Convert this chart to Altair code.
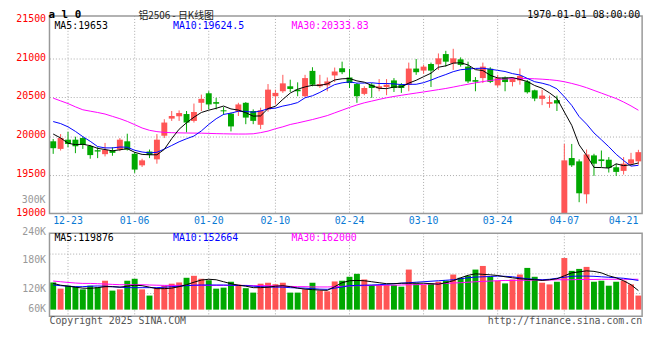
import altair as alt
import pandas as pd

# ---------------- data ----------------
dates = ["12-19", "12-20", "12-23", "12-24", "12-25", "12-26", "12-27", "12-30", "12-31",
         "01-02", "01-03", "01-06", "01-07", "01-08", "01-09", "01-10", "01-13", "01-14",
         "01-15", "01-16", "01-17", "01-20", "01-21", "01-22", "01-23", "01-24", "01-27",
         "02-05", "02-06", "02-07", "02-10", "02-11", "02-12", "02-13", "02-14", "02-17",
         "02-18", "02-19", "02-20", "02-21", "02-24", "02-25", "02-26", "02-27", "02-28",
         "03-03", "03-04", "03-05", "03-06", "03-07", "03-10", "03-11", "03-12", "03-13",
         "03-14", "03-17", "03-18", "03-19", "03-20", "03-21", "03-24", "03-25", "03-26",
         "03-27", "03-28", "03-31", "04-01", "04-02", "04-03", "04-07", "04-08", "04-09",
         "04-10", "04-11", "04-14", "04-15", "04-16", "04-17", "04-18", "04-21"]

open_ = [19933, 19835, 19954, 19954, 19975, 19873, 19818, 19767, 19814, 19827,
         19933, 19772, 19623, 19801, 19700, 20005, 20226, 20256, 20285, 20196,
         20430, 20553, 20439, 20333, 20290, 20316, 20430, 20324, 20146, 20345,
         20515, 20579, 20643, 20600, 20515, 20842, 20643, 20655, 20783, 20876,
         20757, 20672, 20545, 20664, 20617, 20634, 20719, 20664, 20664, 20872,
         20846, 20931, 20927, 21059, 20940, 20991, 20897, 20723, 20749, 20870,
         20655, 20757, 20698, 20719, 20706, 20591, 20481, 20417, 20464, 18980,
         19717, 19674, 19249, 19751, 19700, 19695, 19598, 19551, 19644, 19674]

high = [19963, 20026, 20056, 19992, 19992, 19886, 19856, 19912, 19856, 19975,
        20031, 19793, 19708, 19827, 20026, 20218, 20324, 20332, 20324, 20420,
        20536, 20579, 20494, 20375, 20303, 20430, 20439, 20345, 20367, 20672,
        20600, 20791, 20728, 20694, 20791, 20889, 20791, 20757, 20885, 20961,
        20868, 20685, 20643, 20685, 20736, 20736, 20749, 20685, 20949, 20995,
        20919, 20949, 21067, 21101, 21127, 21016, 20961, 20762, 20949, 20889,
        20791, 20770, 20761, 20872, 20727, 20600, 20600, 20523, 20523, 19899,
        19899, 19700, 19827, 19772, 19814, 19729, 19644, 19729, 19784, 19823]

low = [19771, 19814, 19856, 19780, 19835, 19708, 19716, 19738, 19746, 19806,
       19814, 19525, 19602, 19716, 19644, 19975, 20196, 20196, 20048, 20175,
       20324, 20345, 20345, 20273, 20061, 20260, 20154, 20154, 20091, 20316,
       20409, 20558, 20570, 20515, 20502, 20643, 20622, 20579, 20698, 20800,
       20621, 20430, 20528, 20494, 20579, 20528, 20570, 20558, 20579, 20791,
       20804, 20634, 20855, 20897, 20855, 20897, 20685, 20579, 20685, 20685,
       20630, 20579, 20642, 20664, 20549, 20451, 20400, 20366, 20324, 18950,
       19602, 19147, 19130, 19487, 19602, 19530, 19487, 19504, 19623, 19632]

close = [19844, 19975, 19899, 19869, 19886, 19755, 19801, 19822, 19784, 19954,
         19827, 19568, 19687, 19759, 19954, 20175, 20260, 20298, 20175, 20311,
         20481, 20409, 20418, 20320, 20125, 20409, 20239, 20197, 20333, 20600,
         20558, 20681, 20609, 20579, 20749, 20664, 20672, 20706, 20834, 20825,
         20685, 20515, 20621, 20621, 20643, 20664, 20621, 20621, 20872, 20825,
         20897, 20846, 21004, 20961, 21004, 20919, 20706, 20702, 20897, 20700,
         20749, 20698, 20736, 20778, 20566, 20485, 20523, 20439, 20422, 19687,
         19623, 19262, 19763, 19644, 19678, 19589, 19538, 19644, 19700, 19793]

ma5 = [20027, 19976, 19908, 19890, 19895, 19877, 19842, 19827, 19810, 19823,
       19838, 19791, 19764, 19759, 19759, 19829, 19967, 20089, 20172, 20244,
       20305, 20335, 20359, 20388, 20351, 20336, 20302, 20258, 20261, 20356,
       20385, 20474, 20556, 20605, 20635, 20656, 20655, 20674, 20725, 20740,
       20744, 20713, 20696, 20653, 20617, 20613, 20634, 20634, 20684, 20721,
       20767, 20812, 20889, 20907, 20942, 20947, 20919, 20858, 20846, 20785,
       20751, 20749, 20756, 20732, 20705, 20653, 20618, 20558, 20487, 20311,
       20139, 19887, 19751, 19596, 19594, 19587, 19642, 19619, 19630, 19653]

ma10 = [20188, 20162, 20120, 20061, 19993, 19933, 19865, 19848, 19848, 19859,
        19857, 19817, 19795, 19784, 19791, 19833, 19879, 19927, 19966, 20001,
        20067, 20151, 20224, 20280, 20297, 20321, 20319, 20308, 20324, 20353,
        20361, 20388, 20407, 20433, 20495, 20521, 20564, 20615, 20665, 20688,
        20700, 20684, 20685, 20689, 20679, 20679, 20674, 20665, 20669, 20669,
        20690, 20723, 20761, 20795, 20832, 20857, 20866, 20874, 20876, 20864,
        20849, 20834, 20807, 20789, 20745, 20702, 20683, 20657, 20610, 20508,
        20396, 20252, 20155, 20041, 19953, 19863, 19765, 19685, 19613, 19623]

ma30 = [20490, 20455, 20420, 20378, 20340, 20322, 20305, 20285, 20255, 20225,
        20190, 20148, 20105, 20075, 20058, 20048, 20044, 20042, 20040, 20039,
        20038, 20035, 20032, 20030, 20028, 20027, 20027, 20030, 20045, 20065,
        20095, 20120, 20150, 20170, 20192, 20214, 20239, 20265, 20300, 20335,
        20370, 20402, 20430, 20452, 20474, 20495, 20512, 20527, 20542, 20556,
        20570, 20585, 20600, 20615, 20633, 20652, 20670, 20688, 20704, 20718,
        20730, 20738, 20742, 20744, 20743, 20740, 20735, 20728, 20718, 20702,
        20680, 20655, 20625, 20590, 20555, 20520, 20485, 20440, 20390, 20334]

volume = [137000, 124000, 130200, 128100, 122500, 130200, 127100, 140600, 119900, 122500,
          140600, 144700, 122500, 109500, 126100, 130200, 134400, 137000, 146800, 150900,
          144700, 141600, 124000, 126100, 138500, 132300, 125000, 115700, 134400, 136400,
          133300, 136400, 115700, 115700, 122500, 136400, 119900, 118400, 139100, 140600,
          148900, 155100, 143300, 131700, 131700, 131700, 131700, 128100, 164000, 135000,
          131700, 135000, 138500, 140600, 153600, 146800, 150900, 164000, 171600, 148900,
          140600, 135000, 143300, 153600, 167500, 148900, 136400, 132900, 138500, 188200,
          161300, 165400, 169600, 138500, 140600, 130200, 138500, 140600, 132900, 109500]

vma5 = [134980, 131250, 129180, 127110, 125040, 124620, 126070, 128150, 128150, 127110,
        129180, 131250, 130220, 127110, 124000, 124000, 125040, 128150, 132290, 137470,
        142020, 143680, 142650, 138500, 134360, 131250, 129180, 126070, 126070, 127110,
        129180, 130220, 128150, 125040, 122960, 121930, 120890, 120480, 128150, 136430,
        140570, 141200, 140570, 138500, 136430, 134360, 134360, 135400, 135400, 135400,
        135400, 134360, 133320, 136430, 140570, 146790, 151970, 155070, 154040, 153000,
        151550, 148860, 146790, 144720, 143680, 142650, 141200, 142650, 144720, 150930,
        157140, 159210, 161290, 160250, 157140, 150930, 146790, 140570, 132290, 119876]

vma10 = [131670, 130220, 129180, 128150, 128150, 129180, 129600, 129180, 128150, 127110,
         126070, 126070, 126070, 126070, 126070, 127110, 128150, 129180, 130220, 131250,
         131670, 131670, 131670, 131670, 131250, 130840, 130220, 129180, 128150, 127530,
         127110, 127110, 126070, 125450, 125040, 124000, 122960, 122550, 125040, 127530,
         130220, 130840, 131250, 131670, 132290, 133320, 134360, 135400, 136430, 137470,
         138500, 139540, 140570, 141610, 142650, 144720, 146790, 148240, 148860, 149480,
         150310, 149890, 148860, 146790, 144720, 143680, 142650, 143680, 145750, 147820,
         149890, 150310, 150310, 149890, 148860, 147820, 146790, 145750, 143680, 141200]

vma30 = [139950, 138500, 137050, 135810, 134980, 134980, 134360, 133740, 132910, 132290,
         132290, 132290, 132290, 131670, 131250, 130840, 130840, 130840, 130840, 130840,
         130840, 130840, 130840, 130840, 130840, 130840, 130840, 130220, 130220, 130220,
         129600, 129180, 128770, 128150, 128150, 127530, 127530, 127530, 128150, 128770,
         129600, 130220, 130220, 130840, 130840, 131250, 131250, 131670, 132290, 132290,
         132910, 133740, 134360, 134980, 135810, 136430, 137470, 138500, 139120, 139950,
         140570, 141200, 141200, 141610, 141610, 142020, 142020, 142020, 142650, 142650,
         142650, 143270, 143270, 143270, 143680, 143680, 143680, 143680, 143680, 143680]

tick_dates = ["12-23", "01-06", "01-20", "02-10", "02-24", "03-10", "03-24", "04-07", "04-21"]
grid_dates = ["12-23", "01-06", "01-20", "02-10", "02-24", "03-10", "03-24", "04-07"]
price_ticks = [19000, 19500, 20000, 20500, 21000, 21500]
vol_ticks = [240000, 180000, 120000, 79000]
vol_grid = [196500, 155000, 113700]
PRICE_TOP, PRICE_BOTTOM = 21550, 19000
VOL_TOP, VOL_BOTTOM, VOL_BASE = 240000, 66000, 80000

# ---------------- styles ----------------
MONO = "DejaVu Sans Mono"
CJK = "Noto Sans CJK SC"
RED = "#ff5555"
GREEN = "#00a800"
GRID = "#aaaaaa"
FRAME = "#999999"
W, H = 600, 304

df = pd.DataFrame({"date": dates, "open": open_, "high": high, "low": low, "close": close,
                   "ma5": ma5, "ma10": ma10, "ma30": ma30, "volume": volume,
                   "vma5": vma5, "vma10": vma10, "vma30": vma30})
df["dir"] = ["up" if c >= o else "down" for o, c in zip(open_, close)]

x_axis = alt.Axis(values=tick_dates, title=None, orient="bottom", offset=-104,
                  domain=False, ticks=False, grid=False, labelAngle=0,
                  labelColor="#0a7ad4", labelFont=MONO, labelFontSize=10,
                  labelPadding=2, labelOverlap=False,
                  labelAlign={"condition": {"test": "datum.value == '04-21'", "value": "right"},
                              "value": "center"})
X = alt.X("date:N", scale=alt.Scale(domain=dates, paddingInner=0, paddingOuter=0), axis=x_axis)
COLOR = alt.Color("dir:N", scale=alt.Scale(domain=["up", "down"], range=[RED, GREEN]), legend=None)

p_scale = alt.Scale(domain=[PRICE_BOTTOM, PRICE_TOP], range=[200, 0], clamp=True, zero=False, nice=False)
p_axis = alt.Axis(values=price_ticks, title=None, orient="left", domain=False, ticks=False,
                  grid=True, gridColor=GRID, gridDash=[1, 2], gridWidth=1,
                  gridOpacity={"condition": {"test": "datum.value == 21500 || datum.value == 19000",
                                             "value": 0}, "value": 1},
                  format="d",
                  labelColor="#ff0000", labelFont=MONO, labelFontSize=10,
                  labelPadding=4, labelOffset=-1.5)

v_scale = alt.Scale(domain=[VOL_BOTTOM, VOL_TOP], range=[304, 220], zero=False, nice=False)
v_axis = alt.Axis(values=vol_ticks, title=None, orient="left", domain=False, ticks=False, grid=False,
                  labelColor="#999999", labelFont=MONO, labelFontSize=10, labelPadding=4,
                  labelOffset=-2,
                  labelExpr="datum.value < 100000 ? '60K' : format(datum.value / 1000, 'd') + 'K'")


def PY(field):
    return alt.Y(field, scale=p_scale, axis=p_axis)


def PYD(v):
    return alt.Y(datum=v, type="quantitative", scale=p_scale, axis=p_axis)


def VY(field):
    return alt.Y(field, scale=v_scale, axis=v_axis)


def VYD(v):
    return alt.Y(datum=v, type="quantitative", scale=v_scale, axis=v_axis)


def label(text, x, y, color="#000000", align="left", size=10, font=MONO, weight="normal",
          baseline="alphabetic"):
    return alt.Chart(pd.DataFrame({"t": [text]})).mark_text(
        align=align, baseline=baseline, color=color, font=font, fontSize=size, fontWeight=weight
    ).encode(text="t:N", x=alt.value(x), y=alt.value(y))


base = alt.Chart(df)
one = pd.DataFrame({"k": [0]})
gd = pd.DataFrame({"date": grid_dates})

# ---------------- price panel ----------------
p_vgrid = alt.Chart(gd).mark_rule(color=GRID, strokeDash=[1, 2], strokeWidth=1).encode(
    x=X, y=PYD(PRICE_TOP), y2=alt.Y2(datum=PRICE_BOTTOM))
wicks = base.mark_rule(strokeWidth=1).encode(x=X, y=PY("low:Q"), y2="high:Q", color=COLOR)
bodies = base.mark_bar(size=6).encode(x=X, y=PY("open:Q"), y2="close:Q", color=COLOR)
l5 = base.mark_line(color="#000000", strokeWidth=1).encode(x=X, y=PY("ma5:Q"))
l10 = base.mark_line(color="#0000ff", strokeWidth=1).encode(x=X, y=PY("ma10:Q"))
l30 = base.mark_line(color="#ff00ff", strokeWidth=1).encode(x=X, y=PY("ma30:Q"))
p_frame = alt.Chart(one).mark_rect(fillOpacity=0, stroke=FRAME, strokeWidth=1.5).encode(
    x=alt.value(0), x2=alt.value(W), y=PYD(PRICE_TOP), y2=alt.Y2(datum=PRICE_BOTTOM))

price = alt.layer(
    p_vgrid, wicks, bodies, l30, l10, l5, p_frame,
    label("a l 0", -1, 2, size=11, weight="bold"),
    label("铝2506 - 日K线图", 90, 2.5, color="#222222", size=10, font=CJK),
    label("1970-01-01 08:00:00", 598, 2, align="right"),
    label("MA5:19653", 5, 13),
    label("MA10:19624.5", 125, 13, color="#0000ff"),
    label("MA30:20333.83", 245, 13, color="#ff00ff"),
    label("300K", -4, 186.5, color="#999999", align="right", baseline="middle"),
)

# ---------------- volume panel ----------------
v_hgrid = alt.Chart(pd.DataFrame({"v": vol_grid})).mark_rule(
    color=GRID, strokeDash=[1, 2], strokeWidth=1).encode(
    y=VY("v:Q"), x=alt.value(0), x2=alt.value(W))
v_vgrid = alt.Chart(gd).mark_rule(color=GRID, strokeDash=[1, 2], strokeWidth=1).encode(
    x=X, y=VYD(VOL_TOP), y2=alt.Y2(datum=VOL_BOTTOM))
vbars = base.mark_bar(size=6).encode(x=X, y=VY("volume:Q"), y2=alt.Y2(datum=VOL_BASE), color=COLOR)
vl5 = base.mark_line(color="#000000", strokeWidth=1).encode(x=X, y=VY("vma5:Q"))
vl10 = base.mark_line(color="#0000ff", strokeWidth=1).encode(x=X, y=VY("vma10:Q"))
vl30 = base.mark_line(color="#ff00ff", strokeWidth=1).encode(x=X, y=VY("vma30:Q"))
v_frame = alt.Chart(one).mark_rect(fillOpacity=0, stroke=FRAME, strokeWidth=1.5).encode(
    x=alt.value(0), x2=alt.value(W), y=VYD(VOL_TOP), y2=alt.Y2(datum=VOL_BOTTOM))

vol = alt.layer(
    v_hgrid, v_vgrid, vbars, vl30, vl10, vl5, v_frame,
    label("MA5:119876", 5, 227.5),
    label("MA10:152664", 125, 227.5, color="#0000ff"),
    label("MA30:162000", 245, 227.5, color="#ff00ff"),
    label("Copyright 2025 SINA.COM", 0, 312, color="#555555"),
    label("http://finance.sina.com.cn", W, 312, color="#555555", align="right"),
)

chart = alt.layer(price, vol).resolve_scale(y="independent").properties(
    width=W, height=H,
    autosize=alt.AutoSizeParams(type="none"),
    padding={"left": 42, "top": 6, "right": 10, "bottom": 34},
    background="#ffffff",
).configure_view(strokeWidth=0)

chart.save("out.html", embed_options={"renderer": "svg", "actions": False})
